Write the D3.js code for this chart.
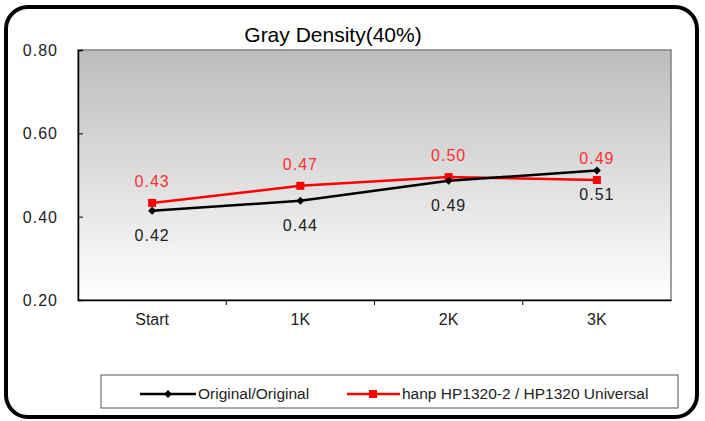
<!DOCTYPE html>
<html>
<head>
<meta charset="utf-8">
<script src="https://cdn.jsdelivr.net/npm/d3@7"></script>
<style>
  body { margin: 0; background: #fff; }
  svg { display: block; font-family: "Liberation Sans", Arial, sans-serif; }
</style>
</head>
<body>
<svg width="705" height="421"></svg>
<script>
const categories = ["Start", "1K", "2K", "3K"]
const originalValues = [0.414, 0.438, 0.486, 0.511]
const originalLabels = ["0.42", "0.44", "0.49", "0.51"]
const hanpValues = [0.433, 0.474, 0.495, 0.488]
const hanpLabels = ["0.43", "0.47", "0.50", "0.49"]
const yTicks = [0.2, 0.4, 0.6, 0.8]
const seriesNames = ["Original/Original", "hanp HP1320-2 / HP1320 Universal"]

const svg = d3.select("svg")
const pLeft = 78, pTop = 50, pRight = 671, pBottom = 300

// outer frame
svg.append("rect")
  .attr("x", 6).attr("y", 7).attr("width", 691).attr("height", 410)
  .attr("rx", 22).attr("ry", 22)
  .attr("fill", "#fff").attr("stroke", "#000").attr("stroke-width", 4)

const defs = svg.append("defs")
const grad = defs.append("linearGradient").attr("id", "bg")
  .attr("x1", 0).attr("y1", 0).attr("x2", 0).attr("y2", 1)
grad.append("stop").attr("offset", "0%").attr("stop-color", "#bcbcbc")
grad.append("stop").attr("offset", "100%").attr("stop-color", "#ffffff")

const xScale = d3.scaleBand().domain(categories).range([pLeft, pRight])
const yScale = d3.scaleLinear().domain([0.2, 0.8]).range([pBottom, pTop])

svg.append("rect")
  .attr("x", pLeft).attr("y", pTop).attr("width", pRight - pLeft).attr("height", pBottom - pTop)
  .attr("fill", "url(#bg)").attr("stroke", "#808080").attr("stroke-width", 1.5)

svg.append("text")
  .attr("x", 333).attr("y", 42)
  .attr("text-anchor", "middle")
  .attr("font-size", 21).attr("fill", "#000")
  .text("Gray Density(40%)")

// y axis
const yAxis = svg.append("g")
  .attr("transform", `translate(${pLeft},0)`)
  .call(d3.axisRight(yScale).tickValues(yTicks).tickSize(5).tickFormat(""))
yAxis.select(".domain").attr("stroke", "#000").attr("stroke-width", 1.5)
yAxis.selectAll("line").attr("stroke", "#000")
svg.selectAll(".ylab").data(yTicks).enter().append("text")
  .attr("x", 58).attr("y", d => yScale(d) + 6)
  .attr("text-anchor", "end").attr("font-size", 16).attr("fill", "#222")
  .attr("letter-spacing", 1)
  .text(d => d3.format(".2f")(d))

// x axis
const xAxis = svg.append("g")
  .attr("transform", `translate(0,${pBottom})`)
  .call(d3.axisBottom(xScale).tickSize(0).tickPadding(14))
xAxis.select(".domain").attr("stroke", "#000").attr("stroke-width", 1.5)
xAxis.selectAll("text").attr("font-size", 16).attr("fill", "#222")
  .attr("font-family", "Liberation Sans, Arial, sans-serif")
xAxis.selectAll(".sep").data(categories.slice(1)).enter().append("line")
  .attr("x1", d => xScale(d)).attr("x2", d => xScale(d))
  .attr("y1", 0).attr("y2", 5).attr("stroke", "#000")

const cx = i => xScale(categories[i]) + xScale.bandwidth() / 2
const line = d3.line()
  .x((d, i) => cx(i))
  .y(d => yScale(d))

svg.append("path").datum(hanpValues)
  .attr("d", line).attr("fill", "none").attr("stroke", "#ff0000").attr("stroke-width", 2.5)
svg.append("path").datum(originalValues)
  .attr("d", line).attr("fill", "none").attr("stroke", "#000").attr("stroke-width", 2.5)

svg.selectAll(".sq").data(hanpValues).enter().append("rect")
  .attr("x", (d, i) => cx(i) - 4).attr("y", d => yScale(d) - 4)
  .attr("width", 8).attr("height", 8).attr("fill", "#ff0000")
svg.selectAll(".dm").data(originalValues).enter().append("path")
  .attr("d", "M0,-4L4,0L0,4L-4,0Z")
  .attr("transform", (d, i) => `translate(${cx(i)},${yScale(d)})`)
  .attr("fill", "#000")

svg.selectAll(".rl").data(hanpValues).enter().append("text")
  .attr("x", (d, i) => cx(i)).attr("y", d => yScale(d) - 16)
  .attr("text-anchor", "middle").attr("font-size", 16).attr("fill", "#ff3030")
  .attr("letter-spacing", 1)
  .text((d, i) => hanpLabels[i])
svg.selectAll(".bl").data(originalValues).enter().append("text")
  .attr("x", (d, i) => cx(i)).attr("y", d => yScale(d) + 30)
  .attr("text-anchor", "middle").attr("font-size", 16).attr("fill", "#222")
  .attr("letter-spacing", 1)
  .text((d, i) => originalLabels[i])

// legend
const lg = svg.append("g")
lg.append("rect").attr("x", 101).attr("y", 375).attr("width", 577).attr("height", 33)
  .attr("fill", "#fff").attr("stroke", "#555").attr("stroke-width", 1)
lg.append("line").attr("x1", 140).attr("x2", 196).attr("y1", 394).attr("y2", 394)
  .attr("stroke", "#000").attr("stroke-width", 2.5)
lg.append("path").attr("d", "M0,-4L4,0L0,4L-4,0Z").attr("transform", "translate(168,394)")
lg.append("text").attr("x", 198).attr("y", 399).attr("font-size", 15.5).attr("fill", "#222")
  .text(seriesNames[0])
lg.append("line").attr("x1", 347).attr("x2", 400).attr("y1", 394).attr("y2", 394)
  .attr("stroke", "#ff0000").attr("stroke-width", 2.5)
lg.append("rect").attr("x", 369).attr("y", 390).attr("width", 8).attr("height", 8).attr("fill", "#ff0000")
lg.append("text").attr("x", 402).attr("y", 399).attr("font-size", 15.5).attr("fill", "#222")
  .text(seriesNames[1])
</script>
</body>
</html>
